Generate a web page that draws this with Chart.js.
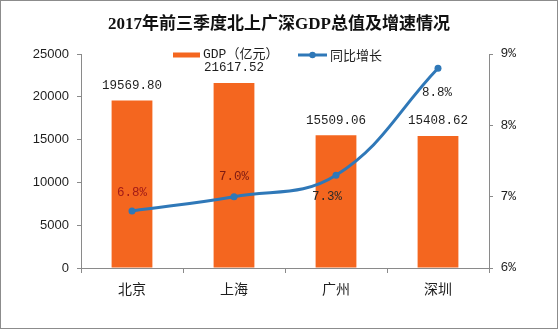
<!DOCTYPE html>
<html>
<head>
<meta charset="utf-8">
<script src="https://cdn.jsdelivr.net/npm/chart.js@4.4.1/dist/chart.umd.min.js"></script>
<style>
  html, body { margin: 0; padding: 0; background: #fff; }
  #wrap { width: 558px; height: 329px; position: relative; }
</style>
</head>
<body>
<div id="wrap"><canvas id="c" width="558" height="329"></canvas></div>
<script>
// 2017年前三季度 北上广深 GDP 总值（亿元）与同比增速（%）
const cities = ['北京', '上海', '广州', '深圳'];
const gdpValues = [19569.80, 21617.52, 15509.06, 15408.62];
const growthRates = [6.8, 7.0, 7.3, 8.8];
const gdpTicks = [0, 5000, 10000, 15000, 20000, 25000];
const growthTicks = [6, 7, 8, 9];

const BAR_COLOR = '#F4661F';
const LINE_COLOR = '#2F78B8';
const AXIS_COLOR = '#8A8A8A';
const TEXT_COLOR = '#1E1E1E';
const MONO = '"Liberation Mono", "Noto Sans CJK SC", monospace';

// white background + thin frame round the whole canvas
const framePlugin = {
  id: 'frame',
  beforeDraw(chart) {
    const { ctx, width, height } = chart;
    ctx.save();
    ctx.fillStyle = '#fff';
    ctx.fillRect(0, 0, width, height);
    ctx.restore();
  },
  afterDraw(chart) {
    const { ctx, width, height } = chart;
    ctx.save();
    ctx.strokeStyle = '#8C8C8C';
    ctx.lineWidth = 1;
    ctx.strokeRect(0.5, 0.5, width - 1, height - 1);
    ctx.restore();
  }
};

// legend drawn inside the top of the plot area
const innerLegend = {
  id: 'innerLegend',
  afterDraw(chart) {
    const { ctx } = chart;
    const ds = chart.data.datasets;
    const y = 55;
    ctx.save();
    ctx.font = '13px ' + MONO;
    ctx.textBaseline = 'middle';
    ctx.textAlign = 'left';
    ctx.fillStyle = TEXT_COLOR;
    // bar entry
    ctx.fillStyle = BAR_COLOR;
    ctx.fillRect(173, y - 2.5, 27, 5);
    ctx.fillStyle = TEXT_COLOR;
    ctx.fillText(ds[0].label, 203, y);
    // line entry
    ctx.strokeStyle = LINE_COLOR;
    ctx.lineWidth = 3;
    ctx.beginPath();
    ctx.moveTo(298, y);
    ctx.lineTo(327, y);
    ctx.stroke();
    ctx.fillStyle = LINE_COLOR;
    ctx.beginPath();
    ctx.arc(312.5, y, 3.2, 0, Math.PI * 2);
    ctx.fill();
    ctx.fillStyle = TEXT_COLOR;
    ctx.font = '13px "Noto Sans CJK SC", sans-serif';
    ctx.fillText(ds[1].label, 330, y);
    ctx.restore();
  }
};

// value labels for bars and line points
const valueLabels = {
  id: 'valueLabels',
  afterDatasetsDraw(chart, args, opts) {
    const { ctx } = chart;
    ctx.save();
    ctx.font = '12.5px ' + MONO;
    ctx.textAlign = 'center';
    ctx.textBaseline = 'middle';

    const bars = chart.getDatasetMeta(0).data;
    bars.forEach((el, i) => {
      ctx.fillStyle = TEXT_COLOR;
      ctx.fillText(gdpValues[i].toFixed(2), el.x, el.y - 15);
    });

    const pts = chart.getDatasetMeta(1).data;
    pts.forEach((el, i) => {
      const off = opts.lineOffsets[i];
      ctx.fillStyle = opts.lineColors[i];
      ctx.fillText(growthRates[i].toFixed(1) + '%', el.x + off[0], el.y + off[1]);
    });
    ctx.restore();
  }
};

new Chart(document.getElementById('c'), {
  data: {
    labels: cities,
    datasets: [
      {
        type: 'bar',
        label: 'GDP（亿元）',
        data: gdpValues,
        backgroundColor: BAR_COLOR,
        borderWidth: 0,
        yAxisID: 'y',
        categoryPercentage: 1,
        barPercentage: 0.4,
        order: 1
      },
      {
        type: 'line',
        label: '同比增长',
        data: growthRates,
        borderColor: LINE_COLOR,
        backgroundColor: LINE_COLOR,
        borderWidth: 3,
        pointRadius: 3.5,
        pointBackgroundColor: LINE_COLOR,
        pointBorderWidth: 0,
        tension: 0.4,
        yAxisID: 'y1',
        order: 0
      }
    ]
  },
  options: {
    responsive: false,
    animation: false,
    devicePixelRatio: 1,
    layout: { padding: 0 },
    plugins: {
      legend: { display: false },
      tooltip: { enabled: false },
      title: {
        display: true,
        text: '2017年前三季度北上广深GDP总值及增速情况',
        color: '#111',
        font: { family: '"Liberation Serif", "Noto Sans CJK SC", serif', size: 17, weight: 'bold' },
        padding: { top: 14, bottom: 19.6 }
      },
      valueLabels: {
        lineOffsets: [[0, -18], [0, -20], [-9, 21], [-1, 24]],
        lineColors: ['#A21A17', '#7E1A12', '#2A2A2A', '#1E1E1E']
      }
    },
    scales: {
      x: {
        grid: {
          display: true,
          offset: true,
          drawOnChartArea: false,
          drawTicks: true,
          tickLength: 5,
          color: AXIS_COLOR
        },
        border: { display: true, color: AXIS_COLOR, width: 1 },
        ticks: {
          color: TEXT_COLOR,
          padding: 7,
          font: { family: '"Noto Sans CJK SC", sans-serif', size: 14 }
        },
        afterFit(scale) { scale.height = 61; }
      },
      y: {
        position: 'left',
        min: gdpTicks[0],
        max: gdpTicks[gdpTicks.length - 1],
        afterBuildTicks(scale) { scale.ticks = gdpTicks.map(v => ({ value: v })); },
        grid: {
          drawOnChartArea: false,
          drawTicks: true,
          tickLength: 4,
          color: AXIS_COLOR
        },
        border: { display: true, color: AXIS_COLOR, width: 1 },
        ticks: {
          color: TEXT_COLOR,
          padding: 8,
          font: { family: '"Liberation Sans", sans-serif', size: 13 },
          callback: v => String(v)
        },
        afterFit(scale) { scale.width = 81; }
      },
      y1: {
        position: 'right',
        min: growthTicks[0],
        max: growthTicks[growthTicks.length - 1],
        afterBuildTicks(scale) { scale.ticks = growthTicks.map(v => ({ value: v })); },
        grid: {
          drawOnChartArea: false,
          drawTicks: true,
          tickLength: 4,
          color: AXIS_COLOR
        },
        border: { display: true, color: AXIS_COLOR, width: 1 },
        ticks: {
          color: TEXT_COLOR,
          padding: 7.5,
          font: { family: MONO, size: 13 },
          callback: v => v + '%'
        },
        afterFit(scale) { scale.width = 69; }
      }
    }
  },
  plugins: [framePlugin, valueLabels, innerLegend]
});
</script>
</body>
</html>
